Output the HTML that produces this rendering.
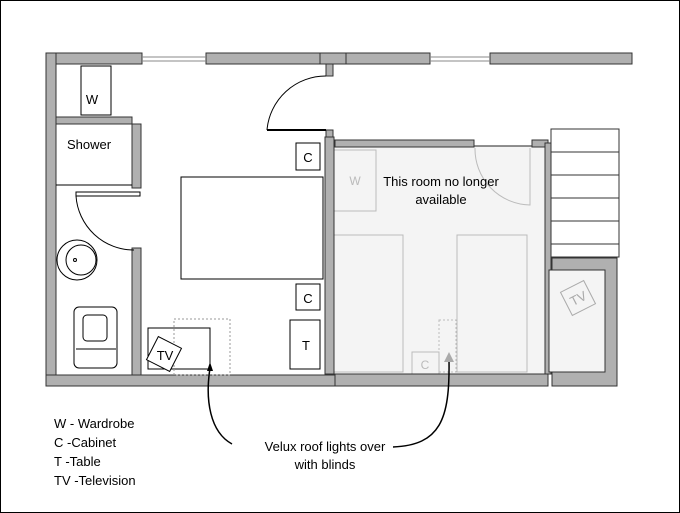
<!DOCTYPE html>
<html><head><style>html,body{margin:0;padding:0;background:#fff}svg{display:block}text{font-family:"Liberation Sans",sans-serif}</style></head>
<body>
<svg width="680" height="513" viewBox="0 0 680 513" xmlns="http://www.w3.org/2000/svg">
<rect x="0.5" y="0.5" width="679" height="512" fill="#fff" stroke="#000"/>
<g stroke="#000" stroke-width="1">
<!-- right room -->
<rect x="333" y="146" width="215" height="228" fill="#f4f4f4" stroke="#222"/>
<g fill="none" stroke="#bbb">
<rect x="334" y="150" width="42" height="61"/>
<rect x="334" y="235" width="69" height="137"/>
<rect x="457" y="235" width="70" height="137"/>
<rect x="412" y="352" width="27" height="23" fill="#f4f4f4"/>
<rect x="439" y="320" width="17" height="52" stroke-dasharray="2,2"/>
<path d="M475,148 A56,56 0 0 0 530,205 L530,148"/>
</g>
<text x="425" y="369" font-size="12" fill="#bbb" stroke="none" text-anchor="middle">C</text>
<text x="355" y="185" font-size="12" fill="#bbb" stroke="none" text-anchor="middle">W</text>
<!-- walls -->
<g fill="#b0b0b0" stroke="#333">
<rect x="46" y="53" width="10" height="333"/>
<rect x="56" y="53" width="86" height="11"/>
<rect x="206" y="53" width="114" height="11"/>
<rect x="320" y="53" width="26" height="11"/>
<rect x="346" y="53" width="84" height="11"/>
<rect x="490" y="53" width="142" height="11"/>
<rect x="326" y="64" width="7" height="12"/>
<rect x="326" y="130" width="7" height="7"/>
<rect x="325" y="137" width="9" height="237"/>
<rect x="46" y="375" width="289" height="11"/>
<rect x="56" y="117" width="76" height="7"/>
<rect x="132" y="124" width="9" height="64"/>
<rect x="132" y="248" width="9" height="127"/>
<rect x="335" y="140" width="139" height="7"/>
<rect x="532" y="140" width="16" height="7"/>
<rect x="545" y="143" width="6" height="231"/>
<rect x="335" y="374" width="213" height="12"/>
<rect x="552" y="258" width="65" height="128"/>
</g>
<rect x="549" y="270" width="56" height="102" fill="#f4f4f4" stroke="#333"/>
<!-- windows -->
<g stroke="#888" fill="none"><line x1="142" y1="57" x2="206" y2="57"/><line x1="142" y1="61" x2="206" y2="61"/>
<line x1="430" y1="57" x2="490" y2="57"/><line x1="430" y1="61" x2="490" y2="61"/></g>
<!-- doors -->
<g fill="none" stroke="#000">
<path d="M267,130 A59,59 0 0 1 326,76"/>
<line x1="267" y1="130" x2="326" y2="130" stroke-width="2"/>
<rect x="76" y="192" width="64" height="4" fill="#fff"/>
<path d="M76,196 A58,58 0 0 0 134,250"/>
</g>
<!-- left room furniture -->
<g fill="#fff" stroke="#000">
<rect x="81" y="66" width="30" height="49"/>
<line x1="56" y1="185" x2="132" y2="185"/>
<circle cx="77" cy="260" r="20"/>
<circle cx="81" cy="260" r="15"/>
<rect x="74" y="307" width="43" height="61" rx="5"/>
<rect x="83" y="315" width="24" height="26" rx="4"/>
<line x1="76" y1="349" x2="116" y2="349"/>
<rect x="181" y="177" width="142" height="102"/>
<rect x="296" y="143" width="24" height="27"/>
<rect x="296" y="284" width="24" height="26"/>
<rect x="290" y="320" width="30" height="49"/>
<rect x="148" y="328" width="62" height="41"/>
<rect x="174" y="319" width="56" height="56" fill="none" stroke="#999" stroke-dasharray="2,2"/>
<rect x="151" y="341" width="26" height="26" transform="rotate(27 164 354)"/>
</g>
<circle cx="75" cy="260" r="1.5" fill="none" stroke="#000"/>
<!-- stairs -->
<g fill="#fff" stroke="#333">
<rect x="551" y="129" width="68" height="128"/>
<line x1="551" y1="152" x2="619" y2="152"/><line x1="551" y1="175" x2="619" y2="175"/>
<line x1="551" y1="198" x2="619" y2="198"/><line x1="551" y1="221" x2="619" y2="221"/>
<line x1="551" y1="244" x2="619" y2="244"/>
</g>
<rect x="565" y="285" width="26" height="26" fill="none" stroke="#aaa" transform="rotate(-27 578 298)"/>
<!-- arrows -->
<path d="M232,444 C210,432 205,400 210,368" fill="none" stroke="#000" stroke-width="1.5"/>
<path d="M210,362 L207,371 L213,371Z" fill="#000" stroke="none"/>
<path d="M393,447 C440,445 450,420 449,360" fill="none" stroke="#000" stroke-width="1.5"/>
<path d="M449,352 L444,362 L454,362Z" fill="#aaa" stroke="none"/>
</g>
<g font-size="13" fill="#000">
<text x="92" y="104" text-anchor="middle">W</text>
<text x="67" y="149">Shower</text>
<text x="308" y="162" text-anchor="middle">C</text>
<text x="308" y="303" text-anchor="middle">C</text>
<text x="306" y="350" text-anchor="middle">T</text>
<text x="165" y="360" text-anchor="middle">TV</text>
<text x="441" y="186" text-anchor="middle">This room no longer</text>
<text x="441" y="204" text-anchor="middle">available</text>
<text x="578" y="303" text-anchor="middle" fill="#aaa" transform="rotate(-27 578 298)">TV</text>
<text x="325" y="451" text-anchor="middle">Velux roof lights over</text>
<text x="325" y="469" text-anchor="middle">with blinds</text>
<text x="54" y="428">W  - Wardrobe</text>
<text x="54" y="447">C  -Cabinet</text>
<text x="54" y="466">T   -Table</text>
<text x="54" y="485">TV -Television</text>
</g>
</svg>
</body></html>
